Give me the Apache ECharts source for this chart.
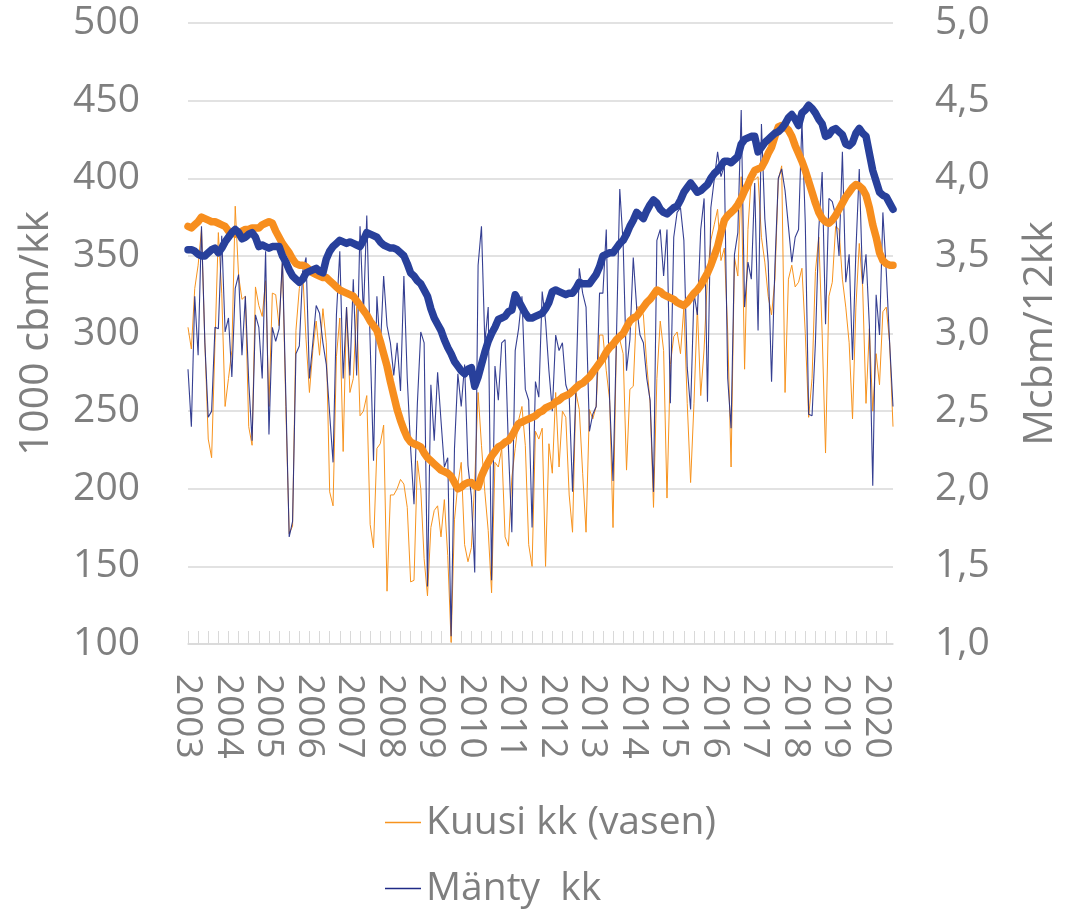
<!DOCTYPE html>
<html>
<head>
<meta charset="utf-8">
<script src="https://cdn.jsdelivr.net/npm/echarts@6/dist/echarts.min.js"></script>
<style>
html,body{margin:0;padding:0;background:#fff;}
#chart{width:1076px;height:914px;}
</style>
</head>
<body>
<div id="chart"></div>
<script>
// Year tick labels (one label per January)
const years = ['2003','2004','2005','2006','2007','2008','2009','2010','2011','2012','2013','2014','2015','2016','2017','2018','2019','2020'];
const monthsInLastYear = 6;

// Kuusi kk (vasen) – monthly, 1000 cbm (left axis)
const kuusiKk = [
  304,290,329,344,367,294,232,220,294,365,326,253,
  271,289,382,337,322,324,240,228,330,318,311,334,
  253,326,325,305,346,253,171,176,302,329,340,296,
  262,289,308,286,316,294,198,189,285,310,224,317,
  262,271,317,247,250,260,177,162,226,229,241,134,
  196,196,200,206,203,188,140,141,218,200,155,131,
  175,186,189,169,193,157,101,180,203,217,164,153,
  162,205,262,228,198,173,133,217,214,226,169,163,
  207,226,244,253,228,164,150,237,232,239,150,229,
  210,262,214,250,246,196,172,262,251,210,172,251,
  245,253,299,299,276,257,175,293,296,287,212,264,
  266,317,317,312,280,255,188,271,308,289,194,280,
  298,301,287,317,255,204,255,317,260,290,337,360,
  370,380,347,355,301,214,349,337,401,277,367,401,
  399,401,362,346,324,312,335,399,408,262,335,344,
  330,333,342,300,246,271,340,362,300,223,324,333,
  369,367,335,317,294,245,317,358,330,255,303,250,
  287,267,314,317,294,240
];

// Mänty kk – monthly, 1000 cbm (left axis)
const mantyKk = [
  277,240,324,286,369,294,246,250,304,303,363,301,
  310,272,329,338,286,324,269,231,312,304,271,353,
  235,304,295,303,349,260,169,179,287,292,340,349,
  271,294,318,313,294,280,248,217,312,353,271,317,
  273,335,273,369,312,376,294,218,324,289,337,305,
  294,273,294,263,337,271,226,190,255,301,294,137,
  267,231,275,244,214,220,105,226,274,253,280,215,
  195,146,344,369,294,317,141,279,257,294,296,226,
  172,289,303,324,264,257,175,269,259,327,308,276,
  250,299,289,294,267,260,198,264,342,326,317,237,
  248,253,326,326,367,257,205,296,393,358,276,296,
  349,317,299,294,271,257,198,360,367,337,367,255,
  362,378,381,360,278,251,326,312,367,387,256,381,
  399,417,401,408,271,239,351,365,444,317,346,335,
  397,302,435,374,346,269,344,400,406,392,369,346,
  362,367,437,371,248,247,294,367,404,306,387,385,
  376,350,417,333,351,283,353,406,332,351,305,202,
  325,299,378,340,294,253
];

// Kuusi 12kk – rolling 12-month, Mcbm (right axis)
const kuusi12kk = [
  3.69,3.68,3.70,3.72,3.75,3.74,3.73,3.72,3.72,3.71,3.70,3.69,
  3.66,3.65,3.64,3.65,3.66,3.67,3.67,3.68,3.68,3.68,3.70,3.71,
  3.72,3.71,3.66,3.62,3.58,3.55,3.52,3.48,3.45,3.44,3.44,3.43,
  3.41,3.39,3.38,3.37,3.36,3.36,3.34,3.32,3.30,3.28,3.27,3.26,
  3.25,3.24,3.21,3.18,3.15,3.12,3.08,3.05,3.02,2.95,2.87,2.79,
  2.69,2.60,2.51,2.44,2.38,2.33,2.30,2.29,2.28,2.27,2.23,2.20,
  2.18,2.16,2.14,2.12,2.11,2.10,2.08,2.04,2.00,2.01,2.03,2.04,
  2.04,2.02,2.01,2.08,2.13,2.17,2.21,2.24,2.27,2.28,2.30,2.31,
  2.34,2.38,2.42,2.43,2.44,2.45,2.46,2.47,2.49,2.50,2.52,2.53,
  2.54,2.56,2.57,2.59,2.60,2.61,2.63,2.65,2.67,2.68,2.70,2.72,
  2.75,2.78,2.81,2.84,2.88,2.91,2.93,2.96,2.98,3.00,3.04,3.08,
  3.10,3.11,3.14,3.17,3.20,3.22,3.25,3.28,3.27,3.25,3.24,3.23,
  3.22,3.20,3.19,3.18,3.20,3.23,3.26,3.28,3.31,3.35,3.39,3.44,
  3.50,3.56,3.65,3.73,3.76,3.78,3.80,3.83,3.87,3.92,3.96,4.01,
  4.05,4.06,4.07,4.11,4.16,4.20,4.27,4.33,4.34,4.33,4.31,4.27,
  4.21,4.16,4.11,4.05,3.98,3.91,3.84,3.78,3.74,3.72,3.71,3.73,
  3.76,3.80,3.84,3.88,3.91,3.94,3.96,3.95,3.93,3.89,3.81,3.70,
  3.62,3.52,3.47,3.45,3.44,3.44
];

// Mänty 12kk – rolling 12-month, Mcbm (right axis)
const manty12kk = [
  3.54,3.54,3.53,3.51,3.50,3.50,3.52,3.54,3.55,3.52,3.55,3.59,
  3.62,3.65,3.67,3.65,3.61,3.62,3.64,3.65,3.62,3.56,3.57,3.56,
  3.55,3.56,3.56,3.56,3.50,3.46,3.41,3.37,3.35,3.33,3.35,3.39,
  3.40,3.41,3.42,3.40,3.39,3.48,3.53,3.56,3.58,3.60,3.59,3.58,
  3.59,3.58,3.57,3.56,3.60,3.65,3.64,3.63,3.62,3.59,3.57,3.56,
  3.55,3.55,3.54,3.52,3.50,3.45,3.39,3.37,3.34,3.32,3.28,3.24,
  3.16,3.10,3.06,3.02,2.96,2.91,2.87,2.82,2.79,2.76,2.74,2.77,
  2.78,2.66,2.72,2.80,2.88,2.95,3.00,3.04,3.09,3.10,3.11,3.14,
  3.15,3.25,3.21,3.17,3.13,3.10,3.10,3.11,3.12,3.13,3.16,3.20,
  3.27,3.28,3.27,3.26,3.25,3.26,3.26,3.29,3.33,3.32,3.32,3.32,
  3.35,3.38,3.43,3.50,3.51,3.52,3.52,3.55,3.58,3.60,3.64,3.69,
  3.73,3.78,3.76,3.74,3.79,3.83,3.86,3.84,3.80,3.78,3.77,3.79,
  3.81,3.82,3.86,3.91,3.94,3.97,3.94,3.91,3.92,3.94,3.96,4.00,
  4.03,4.05,4.08,4.11,4.11,4.10,4.12,4.14,4.22,4.25,4.26,4.27,
  4.27,4.17,4.20,4.23,4.25,4.27,4.29,4.30,4.32,4.35,4.39,4.41,
  4.38,4.34,4.42,4.44,4.47,4.45,4.42,4.38,4.35,4.27,4.28,4.31,
  4.32,4.30,4.28,4.22,4.21,4.23,4.29,4.32,4.29,4.27,4.16,4.05,
  3.98,3.91,3.89,3.88,3.84,3.80
];

// Month categories built from the year labels
const categories = [];
years.forEach((y, yi) => {
  const n = (yi === years.length - 1) ? monthsInLastYear : 12;
  for (let m = 1; m <= n; m++) categories.push(y + '-' + (m < 10 ? '0' + m : m));
});

const FONT = '"Open Sans", "Noto Sans", sans-serif';
const GREY = '#7f7f7f';
const GRIDC = '#d9d9d9';

function legendFor(name, top) {
  return {
    data: [name],
    orient: 'vertical',
    left: 380,
    top: top,
    icon: 'rect',
    itemWidth: 36,
    itemHeight: 1.5,
    itemGap: 0,
    textStyle: {fontSize: 39, color: GREY, fontFamily: FONT, padding: [0, 0, 0, 0]}
  };
}

const chart = echarts.init(document.getElementById('chart'), null, {renderer: 'canvas'});
chart.setOption({
  animation: false,
  backgroundColor: '#ffffff',
  textStyle: {fontFamily: FONT},
  grid: {left: 188, right: 183, top: 23, bottom: 270, containLabel: false},
  legend: [legendFor('Kuusi kk (vasen)', 798), legendFor('Mänty  kk', 864)],
  xAxis: {
    type: 'category',
    data: categories,
    boundaryGap: false,
    axisLine: {show: true, lineStyle: {color: GRIDC, width: 1.5}},
    axisTick: {show: true, inside: true, length: 13, interval: (i) => i % 3 === 0, lineStyle: {color: GRIDC, width: 1}},
    axisLabel: {
      interval: (i) => i % 12 === 0,
      formatter: (v) => v.slice(0, 4),
      rotate: -90,
      margin: 30,
      fontSize: 37,
      color: GREY,
      fontFamily: FONT,
      padding: [22, 0, 0, 0]
    },
    splitLine: {show: false}
  },
  yAxis: [
    {
      type: 'value', min: 100, max: 500, interval: 50,
      name: '1000 cbm/kk', nameLocation: 'middle', nameRotate: 90, nameGap: 131,
      nameTextStyle: {fontSize: 41, color: GREY, fontFamily: FONT},
      axisLine: {show: false}, axisTick: {show: false},
      axisLabel: {fontSize: 39, color: GREY, margin: 48, fontFamily: FONT},
      splitLine: {show: true, lineStyle: {color: GRIDC, width: 1.5}}
    },
    {
      type: 'value', min: 1, max: 5, interval: 0.5, position: 'right',
      name: 'Mcbm/12kk', nameLocation: 'middle', nameRotate: 90, nameGap: 127,
      nameTextStyle: {fontSize: 41, color: GREY, fontFamily: FONT},
      axisLine: {show: false}, axisTick: {show: false},
      axisLabel: {fontSize: 39, color: GREY, margin: 42, fontFamily: FONT,
        formatter: (v) => v.toFixed(1).replace('.', ',')},
      splitLine: {show: false}
    }
  ],
  series: [
    {name: 'Kuusi kk (vasen)', type: 'line', yAxisIndex: 0, data: kuusiKk, symbol: 'none',
      lineStyle: {color: '#f7931e', width: 1}, itemStyle: {color: '#f7931e'}, z: 1},
    {name: 'Mänty  kk', type: 'line', yAxisIndex: 0, data: mantyKk, symbol: 'none',
      lineStyle: {color: '#1f2a86', width: 1.1, opacity: 0.9}, itemStyle: {color: '#1f2a86'}, z: 2},
    {name: 'Kuusi 12kk', type: 'line', yAxisIndex: 1, data: kuusi12kk, symbol: 'none',
      lineStyle: {color: '#f78e1e', width: 7.5, cap: 'round', join: 'round'}, itemStyle: {color: '#f78e1e'}, z: 3},
    {name: 'Mänty 12kk', type: 'line', yAxisIndex: 1, data: manty12kk, symbol: 'none',
      lineStyle: {color: '#28409b', width: 7.5, cap: 'round', join: 'round'}, itemStyle: {color: '#28409b'}, z: 4}
  ]
});
</script>
</body>
</html>
